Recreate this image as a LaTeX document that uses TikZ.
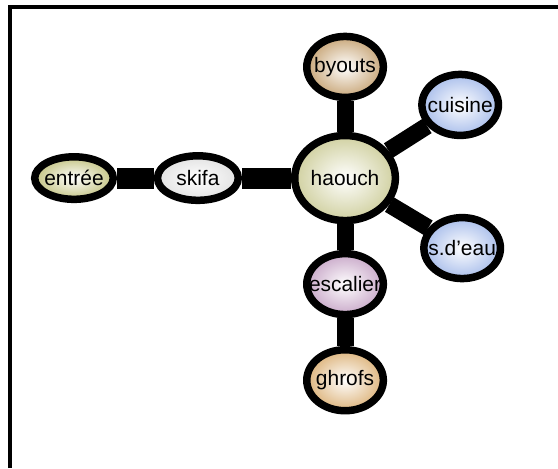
\documentclass[tikz,border=0pt]{standalone}
\usepackage{fontspec}
\setmainfont{Liberation Sans}
\usetikzlibrary{positioning, shapes.geometric, backgrounds}
\definecolor{entreeolive}{HTML}{C4C484}
\definecolor{skifagray}{HTML}{E2E2E2}
\definecolor{haouchgreen}{HTML}{D0D0A0}
\definecolor{byoutstan}{HTML}{C8A678}
\definecolor{waterblue}{HTML}{A9BEEB}
\definecolor{escalierpurple}{HTML}{C9A9C9}
\definecolor{ghrofsorange}{HTML}{DDB47C}
\newcommand{\roomname}[1]{\makebox[0pt]{#1}}

\begin{document}
\begin{tikzpicture}[
    font=\fontsize{21}{25}\selectfont,
    on grid,
    room/.style={
        ellipse, draw=black, line width=7.5bp, inner sep=0pt,
        minimum width=2.7cm, minimum height=2.15cm,
        inner color=white, outer color=#1,
    },
    room/.default=white,
    passage/.style={
        draw=black, line width=17bp,
    },
    widepassage/.style={
        passage, line width=21bp,
    },
    frame/.style={
        draw=black, line width=4bp,
    },
]
\useasboundingbox (-12.17,-10.23) rectangle (7.51,6.28);

% Frame (open to the right and bottom)
\draw[frame] (-11.82,-10.23) -- (-11.82,6.05) -- (7.51,6.05);

% Central court
\node[room=haouchgreen, minimum width=3.55cm, minimum height=3.0cm]
    (haouch) at (0,0) {\roomname{haouch}};

% Rooms round the court
\node[room=byoutstan, above=3.92cm of haouch] (byouts) {\roomname{byouts}};
\node[room=waterblue, above right=2.58cm and 4.06cm of haouch] (cuisine)
    {\roomname{cuisine}};
\node[room=waterblue, below right=2.47cm and 4.13cm of haouch] (sdeau)
    {\roomname{s.d'eau}};
\node[room=escalierpurple, below=3.74cm of haouch] (escalier)
    {\roomname{escalier}};
\node[room=ghrofsorange, below=3.39cm of escalier] (ghrofs)
    {\roomname{ghrofs}};

% Way in
\node[room=skifagray, minimum width=2.85cm, minimum height=1.57cm,
    left=5.19cm of haouch] (skifa) {\roomname{skifa}};
\node[room=entreeolive, minimum width=2.77cm, minimum height=1.5cm,
    left=4.37cm of skifa] (entree) {\roomname{entrée}};

% Passages
\begin{scope}[on background layer]
    \draw[widepassage] (entree) -- (skifa) -- (haouch);
    \draw[passage] (haouch) -- (byouts);
    \draw[passage] (haouch) -- (cuisine);
    \draw[passage] (haouch) -- (sdeau);
    \draw[passage] (haouch) -- (escalier) -- (ghrofs);
\end{scope}

\end{tikzpicture}
\end{document}
